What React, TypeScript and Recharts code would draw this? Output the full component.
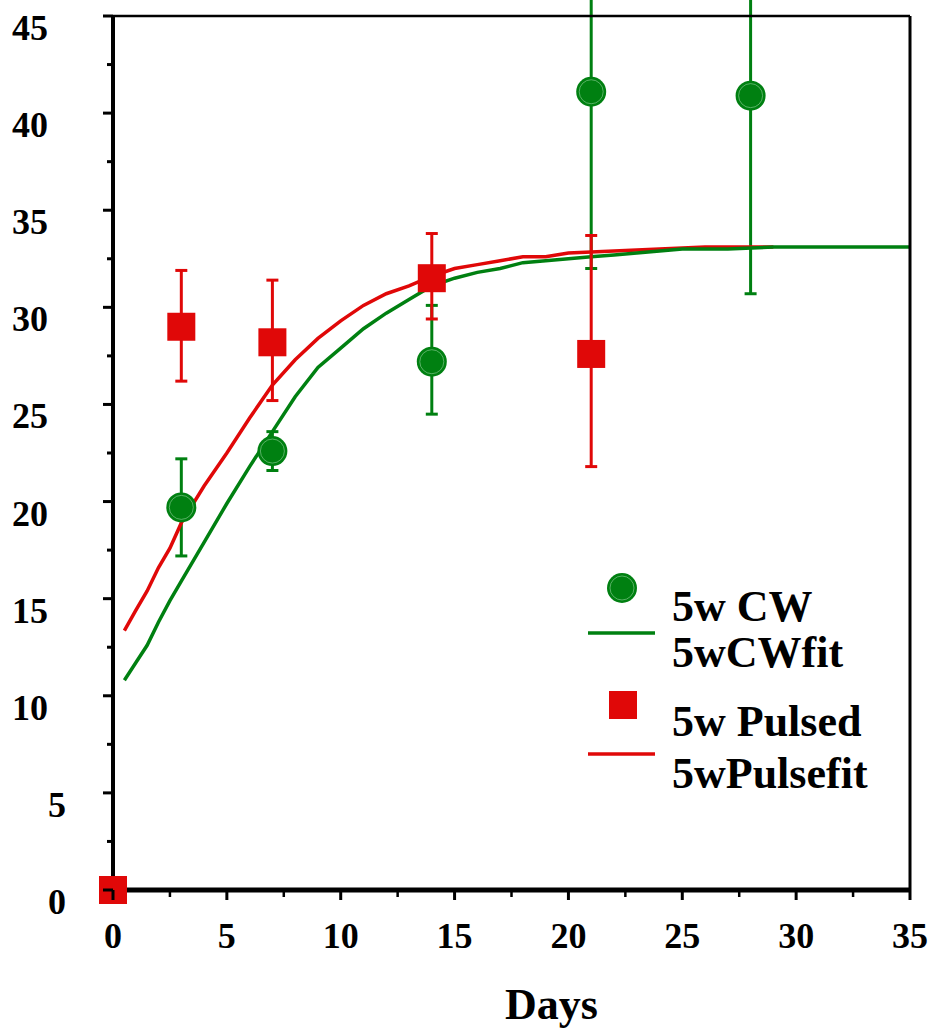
import React from 'react';
import { ComposedChart, Line, Scatter, XAxis, YAxis, ErrorBar, Legend } from 'recharts';

// measured points (mean, lower / upper error)
const cwDays = [3, 7, 14, 21, 28];
const cwMean = [19.7, 22.6, 27.2, 41.1, 40.9];
const cwErrLow = [2.5, 1.0, 2.7, 9.1, 10.2];
const cwErrHigh = [2.5, 1.0, 2.9, 9.1, 10.2];

const pulsedDays = [3, 7, 14, 21];
const pulsedMean = [29.0, 28.2, 31.5, 27.6];
const pulsedErrLow = [2.8, 3.0, 2.1, 5.8];
const pulsedErrHigh = [2.9, 3.2, 2.3, 6.1];

const originDays = [0];
const originMean = [0];

// fitted curves
const cwFitDays = [0.5, 1, 1.5, 2, 2.5, 3, 4, 5, 6, 7, 8, 9, 10, 11, 12, 13, 14, 15, 16, 17, 18, 19, 20, 21, 22, 23, 24, 25, 27, 29, 35];
const cwFitValues = [10.8, 11.7, 12.6, 13.8, 14.9, 15.9, 17.9, 19.9, 21.8, 23.6, 25.4, 26.9, 27.9, 28.9, 29.7, 30.4, 31.1, 31.5, 31.8, 32.0, 32.3, 32.4, 32.5, 32.6, 32.7, 32.8, 32.9, 33.0, 33.0, 33.1, 33.1];

const pulseFitDays = [0.5, 1, 1.5, 2, 2.5, 3, 4, 5, 6, 7, 8, 9, 10, 11, 12, 13, 14, 15, 16, 17, 18, 19, 20, 22, 24, 26, 29];
const pulseFitValues = [13.35, 14.4, 15.4, 16.6, 17.6, 18.9, 20.8, 22.5, 24.3, 26.0, 27.3, 28.4, 29.3, 30.1, 30.7, 31.1, 31.6, 32.0, 32.2, 32.4, 32.6, 32.6, 32.8, 32.9, 33.0, 33.1, 33.1];

const xTicks = [0, 2.5, 5, 7.5, 10, 12.5, 15, 17.5, 20, 22.5, 25, 27.5, 30, 32.5, 35];
const yTicks = [0, 2.5, 5, 7.5, 10, 12.5, 15, 17.5, 20, 22.5, 25, 27.5, 30, 32.5, 35, 37.5, 40, 42.5, 45];

const GREEN = '#008011';
const RED = '#e00808';
const FONT = '"Liberation Serif", "Times New Roman", Times, serif';

const cwData = cwDays.map((d, i) => ({ x: d, y: cwMean[i], err: [cwErrLow[i], cwErrHigh[i]] }));
const pulsedData = pulsedDays.map((d, i) => ({ x: d, y: pulsedMean[i], err: [pulsedErrLow[i], pulsedErrHigh[i]] }));
const originData = originDays.map((d, i) => ({ x: d, y: originMean[i] }));
const cwFit = cwFitDays.map((d, i) => ({ x: d, y: cwFitValues[i] }));
const pulseFit = pulseFitDays.map((d, i) => ({ x: d, y: pulseFitValues[i] }));

const CircleMark = (props: any) => {
  const { cx, cy } = props;
  if (cx == null || cy == null) return null;
  return (
    <g>
      <circle cx={cx} cy={cy} r={15} fill={GREEN} />
      <circle cx={cx} cy={cy} r={12} fill="none" stroke="#8fd09a" strokeOpacity={0.6} strokeWidth={1} />
    </g>
  );
};

const SquareMark = (props: any) => {
  const { cx, cy } = props;
  if (cx == null || cy == null) return null;
  return <rect x={cx - 14} y={cy - 14} width={28} height={28} fill={RED} />;
};

const YTick = (props: any) => {
  const { x, y, payload } = props;
  const v = payload.value;
  const major = v % 5 === 0;
  return (
    <g>
      <line x1={x - (major ? 10 : 6)} x2={x} y1={y} y2={y} stroke="#000" strokeWidth={3} />
      {major && (
        <text x={x - (v >= 10 ? 65 : 47)} y={y + 24} textAnchor="end" fontFamily={FONT} fontWeight="bold" fontSize={36} fill="#000">
          {v}
        </text>
      )}
    </g>
  );
};

const XTick = (props: any) => {
  const { x, y, payload } = props;
  const v = payload.value;
  const major = v % 5 === 0;
  return (
    <g>
      <line x1={x} x2={x} y1={y} y2={y + (major ? 10 : 7)} stroke="#000" strokeWidth={major ? 3 : 2.5} />
      {major && (
        <text x={x} y={y + 58} textAnchor="middle" fontFamily={FONT} fontWeight="bold" fontSize={36} fill="#000">
          {v}
        </text>
      )}
    </g>
  );
};

const DaysLabel = (props: any) => {
  const vb = props.viewBox || { x: 113, y: 890, width: 797, height: 60 };
  return (
    <text x={vb.x + vb.width / 2 + 40} y={vb.y + vb.height + 69} textAnchor="middle" fontFamily={FONT} fontWeight="bold" fontSize={44} fill="#000">
      Days
    </text>
  );
};

const LegendBox = () => {
  const txt = { fontFamily: FONT, fontWeight: 'bold' as const, fontSize: 44, fill: '#000' };
  return (
    <svg width={350} height={250} style={{ overflow: 'visible' }}>
      <circle cx={62} cy={28} r={15} fill={GREEN} />
      <circle cx={62} cy={28} r={12} fill="none" stroke="#8fd09a" strokeOpacity={0.6} strokeWidth={1} />
      <text x={112} y={61} {...txt}>5w CW</text>
      <line x1={28} x2={95} y1={73} y2={73} stroke={GREEN} strokeWidth={3.5} />
      <text x={112} y={107} {...txt}>5wCWfit</text>
      <rect x={49} y={131} width={28} height={28} fill={RED} />
      <text x={112} y={176} {...txt}>5w Pulsed</text>
      <line x1={28} x2={95} y1={194} y2={194} stroke={RED} strokeWidth={3.5} />
      <text x={112} y={228} {...txt}>5wPulsefit</text>
    </svg>
  );
};

export default function App() {
  return (
    <div style={{ position: 'absolute', left: 0, top: 0, width: 932, height: 1030, background: '#fff' }}>
      <ComposedChart width={932} height={1030} margin={{ top: 15, right: 21, left: 43, bottom: 80 }}>
        <XAxis
          dataKey="x"
          type="number"
          domain={[0, 35]}
          ticks={xTicks}
          interval={0}
          tick={<XTick />}
          tickLine={false}
          tickSize={0}
          tickMargin={0}
          height={60}
          axisLine={{ stroke: '#000', strokeWidth: 5 }}
          label={{ content: DaysLabel }}
        />
        <XAxis
          xAxisId="top"
          dataKey="x"
          orientation="top"
          type="number"
          domain={[0, 35]}
          tick={false}
          tickLine={false}
          height={1}
          axisLine={{ stroke: '#000', strokeWidth: 2.5 }}
        />
        <YAxis
          dataKey="y"
          type="number"
          domain={[0, 45]}
          allowDataOverflow
          ticks={yTicks}
          interval={0}
          tick={<YTick />}
          tickLine={false}
          tickSize={0}
          tickMargin={0}
          width={70}
          axisLine={{ stroke: '#000', strokeWidth: 4 }}
        />
        <YAxis
          yAxisId="right"
          dataKey="y"
          orientation="right"
          type="number"
          domain={[0, 45]}
          tick={false}
          tickLine={false}
          width={1}
          axisLine={{ stroke: '#000', strokeWidth: 3 }}
        />

        <Scatter data={cwData} dataKey="y" shape={CircleMark} isAnimationActive={false} legendType="none">
          <ErrorBar dataKey="err" direction="y" width={6} stroke={GREEN} strokeWidth={3} isAnimationActive={false} />
        </Scatter>
        <Line data={pulseFit} dataKey="y" type="linear" stroke={RED} strokeWidth={3.5} dot={false} activeDot={false} isAnimationActive={false} />
        <Line data={cwFit} dataKey="y" type="linear" stroke={GREEN} strokeWidth={3.5} dot={false} activeDot={false} isAnimationActive={false} />
        <Scatter data={pulsedData} dataKey="y" shape={SquareMark} isAnimationActive={false}>
          <ErrorBar dataKey="err" direction="y" width={6} stroke={RED} strokeWidth={3} isAnimationActive={false} />
        </Scatter>
        <Scatter data={originData} dataKey="y" xAxisId="top" yAxisId="right" shape={SquareMark} isAnimationActive={false} />

        <Legend
          layout="horizontal"
          verticalAlign="middle"
          align="center"
          content={() => <LegendBox />}
          wrapperStyle={{ position: 'absolute', left: 560, top: 560, width: 350, height: 250 }}
        />
      </ComposedChart>
    </div>
  );
}
